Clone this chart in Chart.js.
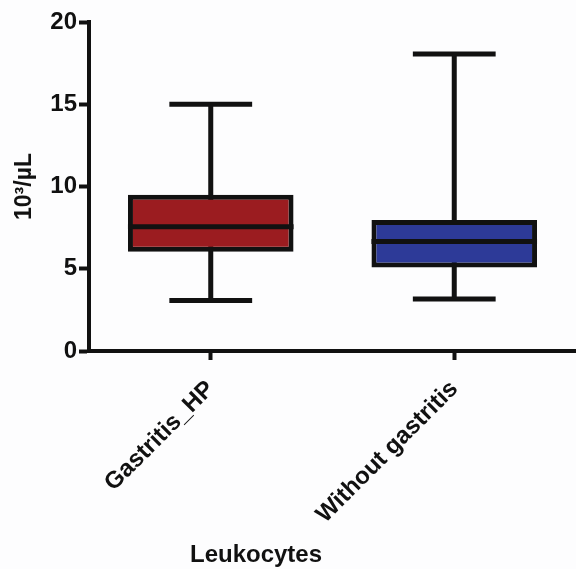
<!DOCTYPE html>
<html>
<head>
<meta charset="utf-8">
<script src="https://cdn.jsdelivr.net/npm/chart.js@4.4.1/dist/chart.umd.min.js"></script>
<style>
    html, body { margin: 0; padding: 0; background: #fdfdfe; }
    #chart { display: block; }
</style>
</head>
<body>
<canvas id="chart" width="576" height="569"></canvas>
<script>
    "use strict";

    // Data (10^3/uL)
    const categories = ["Gastritis_HP", "Without gastritis"];
    const whiskerLow = [3.07, 3.16];
    const quartile1 = [6.03, 5.07];
    const medians = [7.55, 6.65];
    const quartile3 = [9.5, 7.97];
    const whiskerHigh = [15.0, 18.06];
    const yTicks = [0, 5, 10, 15, 20];

    const boxColors = ["#9b1c20", "#2d3a98"];
    const ink = "#111111";
    const fontFamily = '"Liberation Sans", Arial, sans-serif';

    // Whiskers behind the boxes, medians on top
    const boxPlotLines = {
        id: "boxPlotLines",
        beforeDatasetsDraw(chart) {
            const ctx = chart.ctx;
            const y = chart.scales.y;
            const meta = chart.getDatasetMeta(0);
            ctx.save();
            ctx.strokeStyle = ink;
            ctx.lineWidth = 5;
            meta.data.forEach(function (bar, i) {
                const cx = bar.x;
                const half = bar.width / 4;
                const yHi = y.getPixelForValue(whiskerHigh[i]);
                const yLo = y.getPixelForValue(whiskerLow[i]);
                ctx.beginPath();
                ctx.moveTo(cx, yHi);
                ctx.lineTo(cx, yLo);
                ctx.moveTo(cx - half, yHi);
                ctx.lineTo(cx + half, yHi);
                ctx.moveTo(cx - half, yLo);
                ctx.lineTo(cx + half, yLo);
                ctx.stroke();
            });
            ctx.restore();
        },
        afterDatasetsDraw(chart) {
            const ctx = chart.ctx;
            const y = chart.scales.y;
            const meta = chart.getDatasetMeta(0);
            ctx.save();
            ctx.strokeStyle = ink;
            ctx.lineWidth = 5;
            meta.data.forEach(function (bar, i) {
                const ym = y.getPixelForValue(medians[i]);
                ctx.beginPath();
                ctx.moveTo(bar.x - bar.width / 2, ym);
                ctx.lineTo(bar.x + bar.width / 2, ym);
                ctx.stroke();
            });
            ctx.restore();
        },
        afterDraw(chart) {
            const ctx = chart.ctx;
            ctx.save();
            ctx.fillStyle = ink;
            ctx.font = "bold 24px " + fontFamily;
            ctx.textAlign = "center";
            ctx.textBaseline = "alphabetic";
            ctx.fillText("Leukocytes", 256, 562);
            ctx.restore();
        }
    };

    const ctx = document.getElementById("chart").getContext("2d");
    const boxChart = new Chart(ctx, {
        type: "bar",
        data: {
            labels: categories,
            datasets: [{
                data: categories.map(function (c, i) { return [quartile1[i], quartile3[i]]; }),
                backgroundColor: boxColors,
                borderColor: ink,
                borderWidth: 5,
                borderSkipped: false,
                categoryPercentage: 1,
                barPercentage: 0.68
            }]
        },
        options: {
            responsive: false,
            animation: false,
            layout: { padding: { top: 22, left: 0, right: 0, bottom: 0 } },
            plugins: {
                legend: { display: false },
                tooltip: { enabled: false }
            },
            scales: {
                x: {
                    offset: true,
                    afterFit: function (scale) { scale.height = 218; },
                    border: { display: true, color: ink, width: 4 },
                    grid: {
                        offset: false,
                        drawOnChartArea: false,
                        drawTicks: true,
                        tickLength: 9,
                        tickWidth: 4,
                        tickColor: ink
                    },
                    ticks: {
                        maxRotation: 45,
                        minRotation: 45,
                        padding: 15,
                        color: ink,
                        font: { family: fontFamily, size: 24, weight: "bold" }
                    }
                },
                y: {
                    min: 0,
                    max: 20,
                    afterFit: function (scale) { scale.width = 89; },
                    afterBuildTicks: function (scale) {
                        scale.ticks = yTicks.map(function (v) { return { value: v }; });
                    },
                    border: { display: true, color: ink, width: 4 },
                    grid: {
                        drawOnChartArea: false,
                        drawTicks: true,
                        tickLength: 10,
                        tickWidth: 4,
                        tickColor: ink
                    },
                    ticks: {
                        padding: 2,
                        color: ink,
                        font: { family: fontFamily, size: 24, weight: "bold" }
                    },
                    title: {
                        display: true,
                        text: "10³/µL",
                        color: ink,
                        padding: { top: 11, bottom: 0 },
                        font: { family: fontFamily, size: 23, weight: "bold" }
                    }
                }
            }
        },
        plugins: [boxPlotLines]
    });
</script>
</body>
</html>
